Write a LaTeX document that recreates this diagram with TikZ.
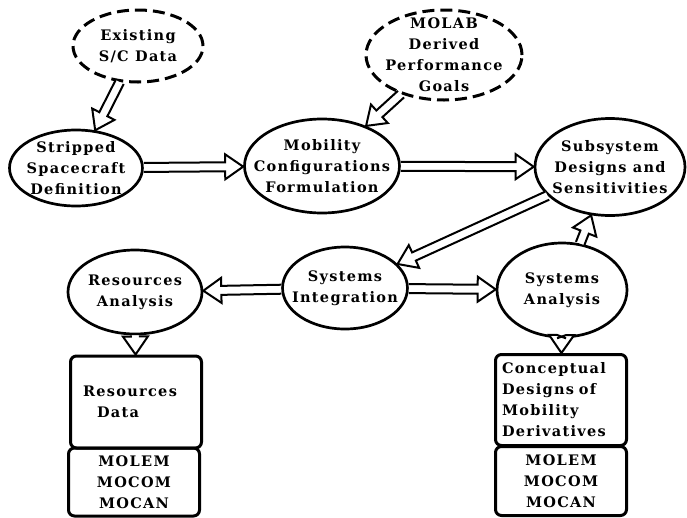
\documentclass[tikz,border=0pt]{standalone}
\usepackage{fontspec}
\setmainfont[LetterSpace=9]{DejaVu Serif}
\usetikzlibrary{shapes.geometric,calc}

\tikzset{
  txt/.style={font=\fontsize{14.5}{21}\selectfont\bfseries},
  proc/.style={ellipse, draw, line width=2.7pt, inner xsep=-80pt, inner ysep=-50pt, align=center, txt},
  src/.style={proc, line width=3pt, dash pattern=on 12pt off 6pt},
  databox/.style={rectangle, rounded corners=6pt, draw, line width=3pt, minimum width=131pt, inner sep=0pt, txt},
  harrow/.style={line width=2pt, line join=miter, fill=white},
}

\newcommand{\hollowarrow}[2]{%
  \path (#1) -- (#2) coordinate[pos=0] (hS) coordinate[pos=1] (hE);
  \coordinate (hH) at ($(hE)!18pt!(hS)$);
  \draw[harrow] ($(hS)!4.5pt!90:(hE)$) -- ($(hH)!4.5pt!-90:(hS)$) -- ($(hH)!12.5pt!-90:(hS)$) -- (hE)
     -- ($(hH)!12.5pt!90:(hS)$) -- ($(hH)!4.5pt!90:(hS)$) -- ($(hS)!4.5pt!-90:(hE)$);
}

\begin{document}
\begin{tikzpicture}[x=1pt, y=-1pt]
\useasboundingbox (0,0) rectangle (687,517);

\node[src, minimum width=130pt, minimum height=72pt] (exist) at (138,46) {Existing\\S/C Data};
\node[src, minimum width=156pt, minimum height=90pt] (molab) at (444,55) {MOLAB\\Derived\\Performance\\Goals};
\node[proc, minimum width=133pt, minimum height=76pt] (strip) at (76,168) {Stripped\\Spacecraft\\Definition};
\node[proc, minimum width=155pt, minimum height=94pt] (mob) at (322,166) {Mobility\\Configurations\\Formulation};
\node[proc, minimum width=150pt, minimum height=97pt] (sub) at (610,167) {Subsystem\\Designs and\\Sensitivities};
\node[proc, minimum width=134pt, minimum height=84pt] (ra) at (135,292) {Resources\\Analysis};
\node[proc, minimum width=125pt, minimum height=82pt] (si) at (345,288) {Systems\\Integration};
\node[proc, minimum width=130pt, minimum height=94pt] (sa) at (562,290) {Systems\\Analysis};

\node[databox, minimum height=92pt, text width=106pt, align=left] (rd) at (136,402) {Resources\\\hspace*{14pt}Data};
\node[databox, minimum height=68pt, align=center] (m1) at (134,482) {MOLEM\\MOCOM\\MOCAN};
\node[databox, minimum height=91pt, text width=118pt, align=left] (cd) at (561,400) {Conceptual\\Designs of\\Mobility\\Derivatives};
\node[databox, minimum height=69pt, align=center] (m2) at (561,481) {MOLEM\\MOCOM\\MOCAN};

\hollowarrow{exist}{strip}
\hollowarrow{molab}{mob}
\hollowarrow{strip}{mob}
\hollowarrow{mob}{sub}
\hollowarrow{sub}{si}
\hollowarrow{sa}{sub}
\hollowarrow{si}{ra}
\hollowarrow{si}{sa}
\hollowarrow{ra}{rd}
\hollowarrow{sa}{cd}
\end{tikzpicture}
\end{document}
